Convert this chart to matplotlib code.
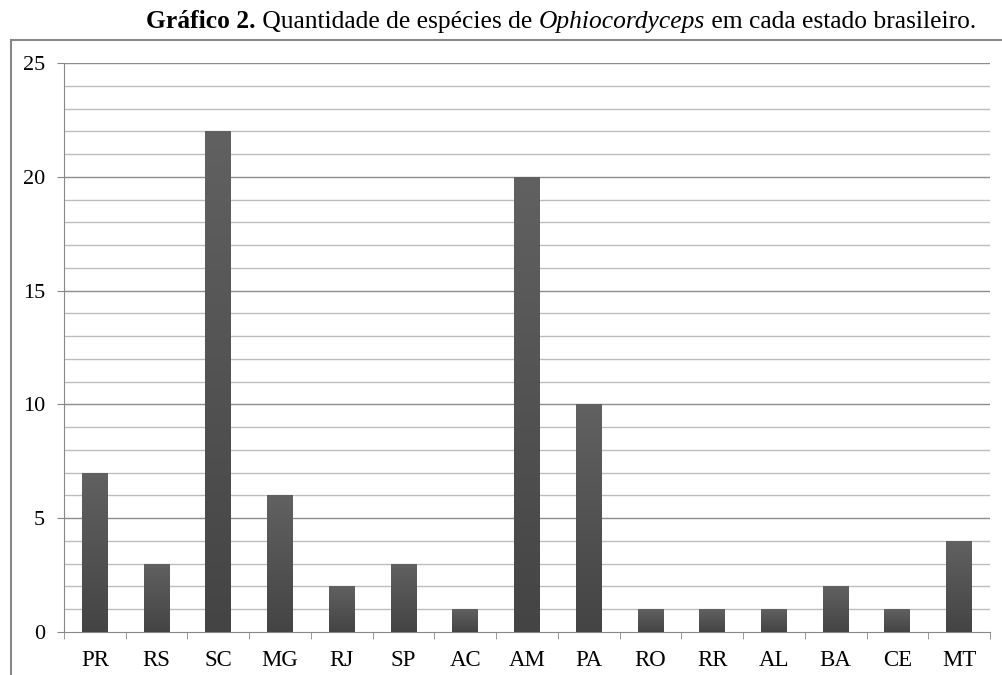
import matplotlib.pyplot as plt
import numpy as np
from matplotlib.colors import LinearSegmentedColormap
from matplotlib.patches import Rectangle
from matplotlib.lines import Line2D

states = ['PR', 'RS', 'SC', 'MG', 'RJ', 'SP', 'AC', 'AM', 'PA', 'RO', 'RR',
          'AL', 'BA', 'CE', 'MT']
counts = [7, 3, 22, 6, 2, 3, 1, 20, 10, 1, 1, 1, 2, 1, 4]
y_ticks = [0, 5, 10, 15, 20, 25]

plt.rcParams['font.family'] = ['Liberation Serif', 'DejaVu Serif']

W, H = 1003, 675
fig = plt.figure(figsize=(W / 100, H / 100), dpi=100)
ax = fig.add_axes([64 / W, (H - 632) / H, (990 - 64) / W, (632 - 63) / H])

# outer frame of the chart area
fig.add_artist(Line2D([11 / W, 11 / W], [0, (H - 40) / H], color='#888888', lw=1.5))
fig.add_artist(Line2D([11 / W, 1], [(H - 40) / H, (H - 40) / H], color='#888888', lw=1.5))

x = np.arange(len(states))
width = 0.42
bars = ax.bar(x, counts, width=width, color='none', zorder=3)

# bars with a slight vertical gradient
cmap = LinearSegmentedColormap.from_list('g', ['#444444', '#616161'])
grad = np.linspace(0, 1, 256).reshape(-1, 1)
for b in bars:
    x0, y0 = b.get_x(), b.get_y()
    w, h = b.get_width(), b.get_height()
    im = ax.imshow(grad, extent=[x0, x0 + w, y0, y0 + h], origin='lower',
                   cmap=cmap, aspect='auto', zorder=3)
    im.set_clip_path(Rectangle((x0, y0), w, h, transform=ax.transData))

ax.set_xlim(-0.5, len(states) - 0.5)
ax.set_ylim(0, 25)

# grid: every unit light, every five units darker
for v in range(1, 26):
    col = '#8c8c8c' if v % 5 == 0 else '#bdbdbd'
    ax.axhline(v, color=col, lw=1, zorder=1)

ax.set_yticks(y_ticks)
ax.set_yticklabels([str(v) for v in y_ticks], fontsize=16)
ax.set_xticks(x)
ax.set_xticklabels(states, fontsize=16.5)
ax.set_xticks(np.arange(-0.5, len(states)), minor=True)
ax.tick_params(axis='x', which='major', length=0, pad=13)
ax.tick_params(axis='x', which='minor', length=5, color='#888888', direction='out')
ax.tick_params(axis='y', length=5, color='#888888', direction='out', pad=8.5)

for s in ['top', 'right']:
    ax.spines[s].set_visible(False)
for s in ['left', 'bottom']:
    ax.spines[s].set_color('#888888')

# title with mixed styles
pieces = [('Gráfico 2.', 'bold', 'normal'),
          (' Quantidade de espécies de ', 'normal', 'normal'),
          ('Ophiocordyceps', 'normal', 'italic'),
          (' em cada estado brasileiro.', 'normal', 'normal')]
fig.canvas.draw()
renderer = fig.canvas.get_renderer()
texts = []
total = 0
for s, wt, st in pieces:
    t = fig.text(0, 0, s, fontsize=18.4, fontweight=wt, fontstyle=st,
                 va='baseline', ha='left')
    bb = t.get_window_extent(renderer)
    texts.append((t, bb.width))
    total += bb.width
xpos = 976 - total
for t, wd in texts:
    t.set_position((xpos / W, (H - 28) / H))
    xpos += wd

fig.savefig('out.png', dpi=100)
